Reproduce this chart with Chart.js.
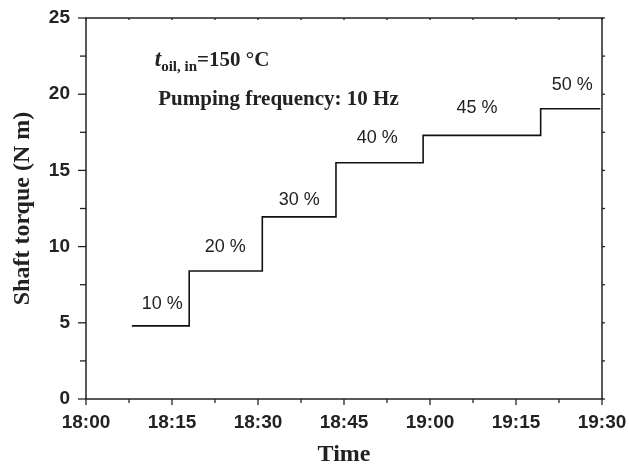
<!DOCTYPE html>
<html lang="en">
<head>
<meta charset="UTF-8">
<title>Shaft torque</title>
<script src="https://cdn.jsdelivr.net/npm/chart.js@4.4.0/dist/chart.umd.min.js"></script>
<style>
    body { margin: 0; background: #fff; }
    canvas { display: block; }
</style>
</head>
<body>
<canvas id="torqueChart" width="629" height="465"></canvas>

<script>
// minutes after 18:00 where each pump setting starts, and the torque held there
var stepStart = [8, 18, 30.75, 43.6, 58.8, 79.3];
var stepTorque = [4.8, 8.4, 11.95, 15.5, 17.3, 19.05];
var runEnd = 89.7;
var stepNames = ['10 %', '20 %', '30 %', '40 %', '45 %', '50 %'];
var timeTicks = ['18:00', '18:15', '18:30', '18:45', '19:00', '19:15', '19:30'];

// where the percent text sits (minutes, N m)
var nameX = [13.3, 24.3, 37.2, 50.8, 68.2, 84.8];
var nameY = [6.2, 10.0, 13.05, 17.1, 19.1, 20.6];

var points = [];
for (var i = 0; i < stepStart.length; i++) {
    points.push({x: stepStart[i], y: stepTorque[i]});
}
points.push({x: runEnd, y: stepTorque[stepTorque.length - 1]});

var SANS = '"Liberation Sans", Arial, sans-serif';
var SERIF = '"Liberation Serif", "Times New Roman", serif';

function line(ctx, x1, y1, x2, y2) {
    ctx.beginPath();
    ctx.moveTo(x1, y1);
    ctx.lineTo(x2, y2);
    ctx.stroke();
}

// box around the plot plus the short tick marks on all four sides
var frameTicks = {
    id: 'frameTicks',
    afterDraw: function(chart) {
        var ctx = chart.ctx, a = chart.chartArea;
        var x = chart.scales.x, y = chart.scales.y;
        ctx.save();
        ctx.strokeStyle = '#222';
        ctx.lineWidth = 1.5;
        ctx.strokeRect(a.left, a.top, a.right - a.left, a.bottom - a.top);
        ctx.lineWidth = 1.3;
        x.ticks.forEach(function(t) {
            var px = x.getPixelForValue(t.value);
            var major = t.value % 15 === 0;
            line(ctx, px, a.bottom, px, a.bottom + (major ? 6 : 4));
            line(ctx, px, a.top, px, a.top + 2);
        });
        y.ticks.forEach(function(t) {
            var py = y.getPixelForValue(t.value);
            var major = t.value % 5 === 0;
            line(ctx, a.left - (major ? 8 : 6), py, a.left, py);
            line(ctx, a.right, py, a.right + 3, py);
        });
        ctx.restore();
    }
};

// percent labels over each step and the test conditions text
var notes = {
    id: 'notes',
    afterDatasetsDraw: function(chart) {
        var ctx = chart.ctx;
        var x = chart.scales.x, y = chart.scales.y;
        ctx.save();
        ctx.fillStyle = '#222';
        ctx.font = '18px ' + SANS;
        ctx.textAlign = 'center';
        ctx.textBaseline = 'middle';
        for (var i = 0; i < stepNames.length; i++) {
            ctx.fillText(stepNames[i], x.getPixelForValue(nameX[i]), y.getPixelForValue(nameY[i]));
        }

        ctx.textAlign = 'left';
        ctx.textBaseline = 'alphabetic';
        var tx = x.getPixelForValue(12);
        var ty = 66;
        ctx.font = 'italic bold 23px ' + SERIF;
        ctx.fillText('t', tx, ty);
        tx += ctx.measureText('t').width;
        ctx.font = 'bold 15px ' + SERIF;
        ctx.fillText('oil, in', tx, ty + 5);
        tx += ctx.measureText('oil, in').width;
        ctx.font = 'bold 21px ' + SERIF;
        ctx.fillText('=150 \u00B0C', tx, ty);

        ctx.fillText('Pumping frequency: 10 Hz', x.getPixelForValue(12.6), 105);
        ctx.restore();
    }
};

new Chart(document.getElementById('torqueChart'), {
    type: 'line',
    data: {
        datasets: [{
            data: points,
            stepped: 'before',
            borderColor: '#111',
            borderWidth: 1.6,
            pointRadius: 0,
            fill: false
        }]
    },
    options: {
        responsive: false,
        animation: false,
        layout: { padding: { top: 18, right: 27, left: 0, bottom: 0 } },
        plugins: {
            legend: { display: false },
            tooltip: { enabled: false }
        },
        scales: {
            x: {
                type: 'linear',
                min: 0,
                max: 90,
                afterFit: function(s) {
                    s.height = 66;
                    s.paddingLeft = 0;
                    s.paddingRight = 0;
                },
                grid: { display: false, drawTicks: false },
                border: { display: false },
                ticks: {
                    stepSize: 7.5,
                    autoSkip: false,
                    maxRotation: 0,
                    padding: 12,
                    color: '#222',
                    font: { family: SANS, size: 19, weight: 'bold' },
                    callback: function(v) {
                        return v % 15 === 0 ? timeTicks[v / 15] : '';
                    }
                },
                title: {
                    display: true,
                    text: 'Time',
                    color: '#222',
                    padding: { top: 0, bottom: -4 },
                    font: { family: SERIF, size: 24, weight: 'bold' }
                }
            },
            y: {
                min: 0,
                max: 25,
                afterFit: function(s) {
                    s.width = 86;
                    s.paddingTop = 0;
                    s.paddingBottom = 0;
                },
                grid: { display: false, drawTicks: false },
                border: { display: false },
                ticks: {
                    stepSize: 2.5,
                    autoSkip: false,
                    padding: 16,
                    color: '#222',
                    font: { family: SANS, size: 19, weight: 'bold' },
                    callback: function(v) {
                        return v % 5 === 0 ? v : '';
                    }
                },
                title: {
                    display: true,
                    text: 'Shaft torque (N m)',
                    color: '#222',
                    padding: { top: 8, bottom: 0 },
                    font: { family: SERIF, size: 24, weight: 'bold' }
                }
            }
        }
    },
    plugins: [frameTicks, notes]
});
</script>
</body>
</html>
